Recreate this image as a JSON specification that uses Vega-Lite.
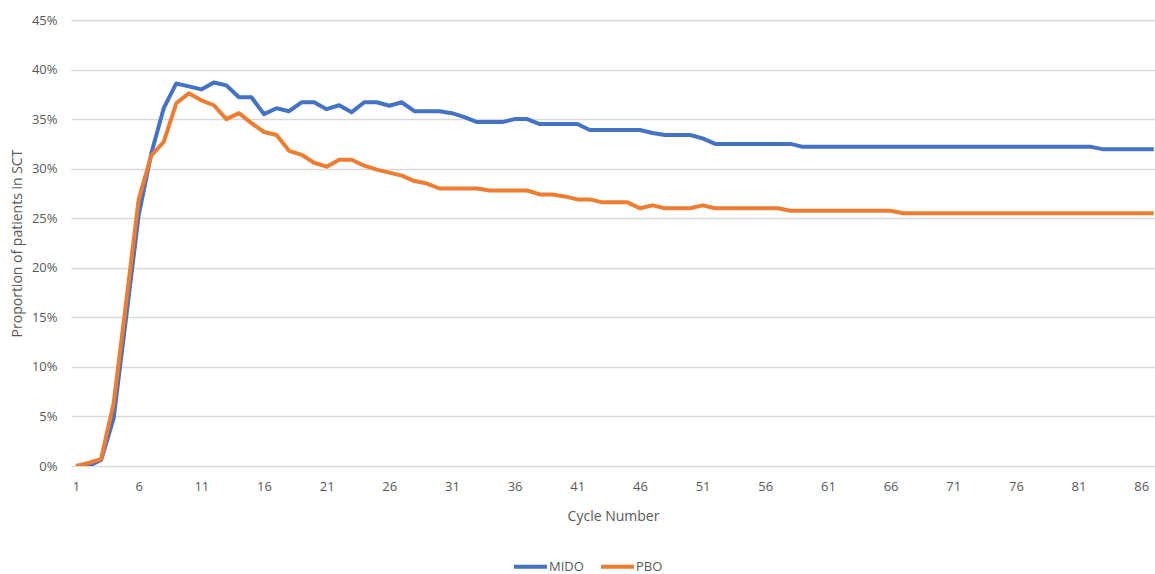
{
  "$schema": "https://vega.github.io/schema/vega-lite/v6.json",
  "width": 1084,
  "height": 446,
  "autosize": "none",
  "padding": {"left": 71, "top": 20, "right": 0, "bottom": 108},
  "background": "white",
  "config": {
    "view": {"stroke": null},
    "font": "Open Sans",
    "axis": {"labelColor": "#595959", "titleColor": "#595959", "labelFont": "Open Sans", "titleFont": "Open Sans", "titleFontWeight": "normal"},
    "legend": {"labelColor": "#595959", "labelFont": "Open Sans"}
  },
  "data": {
    "values": [
      {"cycle":1,"group":"MIDO","value":0},{"cycle":2,"group":"MIDO","value":0},{"cycle":3,"group":"MIDO","value":0.006},{"cycle":4,"group":"MIDO","value":0.048},{"cycle":5,"group":"MIDO","value":0.150},{"cycle":6,"group":"MIDO","value":0.253},{"cycle":7,"group":"MIDO","value":0.315},{"cycle":8,"group":"MIDO","value":0.361},{"cycle":9,"group":"MIDO","value":0.386},{"cycle":10,"group":"MIDO","value":0.383},
      {"cycle":11,"group":"MIDO","value":0.380},{"cycle":12,"group":"MIDO","value":0.387},{"cycle":13,"group":"MIDO","value":0.384},{"cycle":14,"group":"MIDO","value":0.372},{"cycle":15,"group":"MIDO","value":0.372},{"cycle":16,"group":"MIDO","value":0.355},{"cycle":17,"group":"MIDO","value":0.361},{"cycle":18,"group":"MIDO","value":0.358},{"cycle":19,"group":"MIDO","value":0.367},{"cycle":20,"group":"MIDO","value":0.367},
      {"cycle":21,"group":"MIDO","value":0.360},{"cycle":22,"group":"MIDO","value":0.364},{"cycle":23,"group":"MIDO","value":0.357},{"cycle":24,"group":"MIDO","value":0.367},{"cycle":25,"group":"MIDO","value":0.367},{"cycle":26,"group":"MIDO","value":0.3635},{"cycle":27,"group":"MIDO","value":0.367},{"cycle":28,"group":"MIDO","value":0.358},{"cycle":29,"group":"MIDO","value":0.358},{"cycle":30,"group":"MIDO","value":0.358},
      {"cycle":31,"group":"MIDO","value":0.356},{"cycle":32,"group":"MIDO","value":0.352},{"cycle":33,"group":"MIDO","value":0.347},{"cycle":34,"group":"MIDO","value":0.347},{"cycle":35,"group":"MIDO","value":0.347},{"cycle":36,"group":"MIDO","value":0.350},{"cycle":37,"group":"MIDO","value":0.350},{"cycle":38,"group":"MIDO","value":0.345},{"cycle":39,"group":"MIDO","value":0.345},{"cycle":40,"group":"MIDO","value":0.345},
      {"cycle":41,"group":"MIDO","value":0.345},{"cycle":42,"group":"MIDO","value":0.339},{"cycle":43,"group":"MIDO","value":0.339},{"cycle":44,"group":"MIDO","value":0.339},{"cycle":45,"group":"MIDO","value":0.339},{"cycle":46,"group":"MIDO","value":0.339},{"cycle":47,"group":"MIDO","value":0.336},{"cycle":48,"group":"MIDO","value":0.334},{"cycle":49,"group":"MIDO","value":0.334},{"cycle":50,"group":"MIDO","value":0.334},
      {"cycle":51,"group":"MIDO","value":0.3305},{"cycle":52,"group":"MIDO","value":0.325},{"cycle":53,"group":"MIDO","value":0.325},{"cycle":54,"group":"MIDO","value":0.325},{"cycle":55,"group":"MIDO","value":0.325},{"cycle":56,"group":"MIDO","value":0.325},{"cycle":57,"group":"MIDO","value":0.325},{"cycle":58,"group":"MIDO","value":0.325},{"cycle":59,"group":"MIDO","value":0.322},{"cycle":60,"group":"MIDO","value":0.322},
      {"cycle":61,"group":"MIDO","value":0.322},{"cycle":62,"group":"MIDO","value":0.322},{"cycle":63,"group":"MIDO","value":0.322},{"cycle":64,"group":"MIDO","value":0.322},{"cycle":65,"group":"MIDO","value":0.322},{"cycle":66,"group":"MIDO","value":0.322},{"cycle":67,"group":"MIDO","value":0.322},{"cycle":68,"group":"MIDO","value":0.322},{"cycle":69,"group":"MIDO","value":0.322},{"cycle":70,"group":"MIDO","value":0.322},
      {"cycle":71,"group":"MIDO","value":0.322},{"cycle":72,"group":"MIDO","value":0.322},{"cycle":73,"group":"MIDO","value":0.322},{"cycle":74,"group":"MIDO","value":0.322},{"cycle":75,"group":"MIDO","value":0.322},{"cycle":76,"group":"MIDO","value":0.322},{"cycle":77,"group":"MIDO","value":0.322},{"cycle":78,"group":"MIDO","value":0.322},{"cycle":79,"group":"MIDO","value":0.322},{"cycle":80,"group":"MIDO","value":0.322},
      {"cycle":81,"group":"MIDO","value":0.322},{"cycle":82,"group":"MIDO","value":0.322},{"cycle":83,"group":"MIDO","value":0.3195},{"cycle":84,"group":"MIDO","value":0.3195},{"cycle":85,"group":"MIDO","value":0.3195},{"cycle":86,"group":"MIDO","value":0.3195},{"cycle":87,"group":"MIDO","value":0.3195},
      {"cycle":1,"group":"PBO","value":0},{"cycle":2,"group":"PBO","value":0.003},{"cycle":3,"group":"PBO","value":0.007},{"cycle":4,"group":"PBO","value":0.063},{"cycle":5,"group":"PBO","value":0.165},{"cycle":6,"group":"PBO","value":0.269},{"cycle":7,"group":"PBO","value":0.313},{"cycle":8,"group":"PBO","value":0.327},{"cycle":9,"group":"PBO","value":0.366},{"cycle":10,"group":"PBO","value":0.376},
      {"cycle":11,"group":"PBO","value":0.369},{"cycle":12,"group":"PBO","value":0.364},{"cycle":13,"group":"PBO","value":0.350},{"cycle":14,"group":"PBO","value":0.356},{"cycle":15,"group":"PBO","value":0.346},{"cycle":16,"group":"PBO","value":0.337},{"cycle":17,"group":"PBO","value":0.334},{"cycle":18,"group":"PBO","value":0.318},{"cycle":19,"group":"PBO","value":0.314},{"cycle":20,"group":"PBO","value":0.306},
      {"cycle":21,"group":"PBO","value":0.302},{"cycle":22,"group":"PBO","value":0.309},{"cycle":23,"group":"PBO","value":0.309},{"cycle":24,"group":"PBO","value":0.303},{"cycle":25,"group":"PBO","value":0.299},{"cycle":26,"group":"PBO","value":0.296},{"cycle":27,"group":"PBO","value":0.293},{"cycle":28,"group":"PBO","value":0.2875},{"cycle":29,"group":"PBO","value":0.285},{"cycle":30,"group":"PBO","value":0.280},
      {"cycle":31,"group":"PBO","value":0.280},{"cycle":32,"group":"PBO","value":0.280},{"cycle":33,"group":"PBO","value":0.280},{"cycle":34,"group":"PBO","value":0.278},{"cycle":35,"group":"PBO","value":0.278},{"cycle":36,"group":"PBO","value":0.278},{"cycle":37,"group":"PBO","value":0.278},{"cycle":38,"group":"PBO","value":0.274},{"cycle":39,"group":"PBO","value":0.274},{"cycle":40,"group":"PBO","value":0.272},
      {"cycle":41,"group":"PBO","value":0.269},{"cycle":42,"group":"PBO","value":0.269},{"cycle":43,"group":"PBO","value":0.266},{"cycle":44,"group":"PBO","value":0.266},{"cycle":45,"group":"PBO","value":0.266},{"cycle":46,"group":"PBO","value":0.260},{"cycle":47,"group":"PBO","value":0.263},{"cycle":48,"group":"PBO","value":0.260},{"cycle":49,"group":"PBO","value":0.260},{"cycle":50,"group":"PBO","value":0.260},
      {"cycle":51,"group":"PBO","value":0.263},{"cycle":52,"group":"PBO","value":0.260},{"cycle":53,"group":"PBO","value":0.260},{"cycle":54,"group":"PBO","value":0.260},{"cycle":55,"group":"PBO","value":0.260},{"cycle":56,"group":"PBO","value":0.260},{"cycle":57,"group":"PBO","value":0.260},{"cycle":58,"group":"PBO","value":0.2575},{"cycle":59,"group":"PBO","value":0.2575},{"cycle":60,"group":"PBO","value":0.2575},
      {"cycle":61,"group":"PBO","value":0.2575},{"cycle":62,"group":"PBO","value":0.2575},{"cycle":63,"group":"PBO","value":0.2575},{"cycle":64,"group":"PBO","value":0.2575},{"cycle":65,"group":"PBO","value":0.2575},{"cycle":66,"group":"PBO","value":0.2575},{"cycle":67,"group":"PBO","value":0.255},{"cycle":68,"group":"PBO","value":0.255},{"cycle":69,"group":"PBO","value":0.255},{"cycle":70,"group":"PBO","value":0.255},
      {"cycle":71,"group":"PBO","value":0.255},{"cycle":72,"group":"PBO","value":0.255},{"cycle":73,"group":"PBO","value":0.255},{"cycle":74,"group":"PBO","value":0.255},{"cycle":75,"group":"PBO","value":0.255},{"cycle":76,"group":"PBO","value":0.255},{"cycle":77,"group":"PBO","value":0.255},{"cycle":78,"group":"PBO","value":0.255},{"cycle":79,"group":"PBO","value":0.255},{"cycle":80,"group":"PBO","value":0.255},
      {"cycle":81,"group":"PBO","value":0.255},{"cycle":82,"group":"PBO","value":0.255},{"cycle":83,"group":"PBO","value":0.255},{"cycle":84,"group":"PBO","value":0.255},{"cycle":85,"group":"PBO","value":0.255},{"cycle":86,"group":"PBO","value":0.255},{"cycle":87,"group":"PBO","value":0.255}
    ]
  },
  "mark": {"type": "line", "strokeWidth": 4, "strokeJoin": "round", "clip": true},
  "encoding": {
    "x": {
      "field": "cycle", "type": "quantitative",
      "scale": {"domain": [0.6, 87.1], "nice": false, "zero": false},
      "axis": {
        "values": [1,6,11,16,21,26,31,36,41,46,51,56,61,66,71,76,81,86],
        "grid": false, "ticks": false, "domain": false,
        "labelFontSize": 13, "labelPadding": 14,
        "title": "Cycle Number", "titleFontSize": 14, "titlePadding": 16
      }
    },
    "y": {
      "field": "value", "type": "quantitative",
      "scale": {"domain": [0, 0.45], "nice": false},
      "axis": {
        "values": [0,0.05,0.1,0.15,0.2,0.25,0.3,0.35,0.4,0.45],
        "format": ".0%", "grid": true, "gridColor": "#D9D9D9", "gridWidth": 1.3,
        "ticks": false, "domain": false,
        "labelFontSize": 13, "labelPadding": 14,
        "title": "Proportion of patients in SCT", "titleFontSize": 14, "titlePadding": 7
      }
    },
    "color": {
      "field": "group", "type": "nominal",
      "scale": {"domain": ["MIDO", "PBO"], "range": ["#4472C4", "#ED7D31"]},
      "legend": {
        "title": null, "orient": "none", "direction": "horizontal",
        "legendX": 441, "legendY": 528,
        "symbolType": "stroke", "symbolSize": 1089, "symbolStrokeWidth": 4,
        "labelFontSize": 13, "labelOffset": 0, "columnPadding": 9
      }
    }
  }
}
